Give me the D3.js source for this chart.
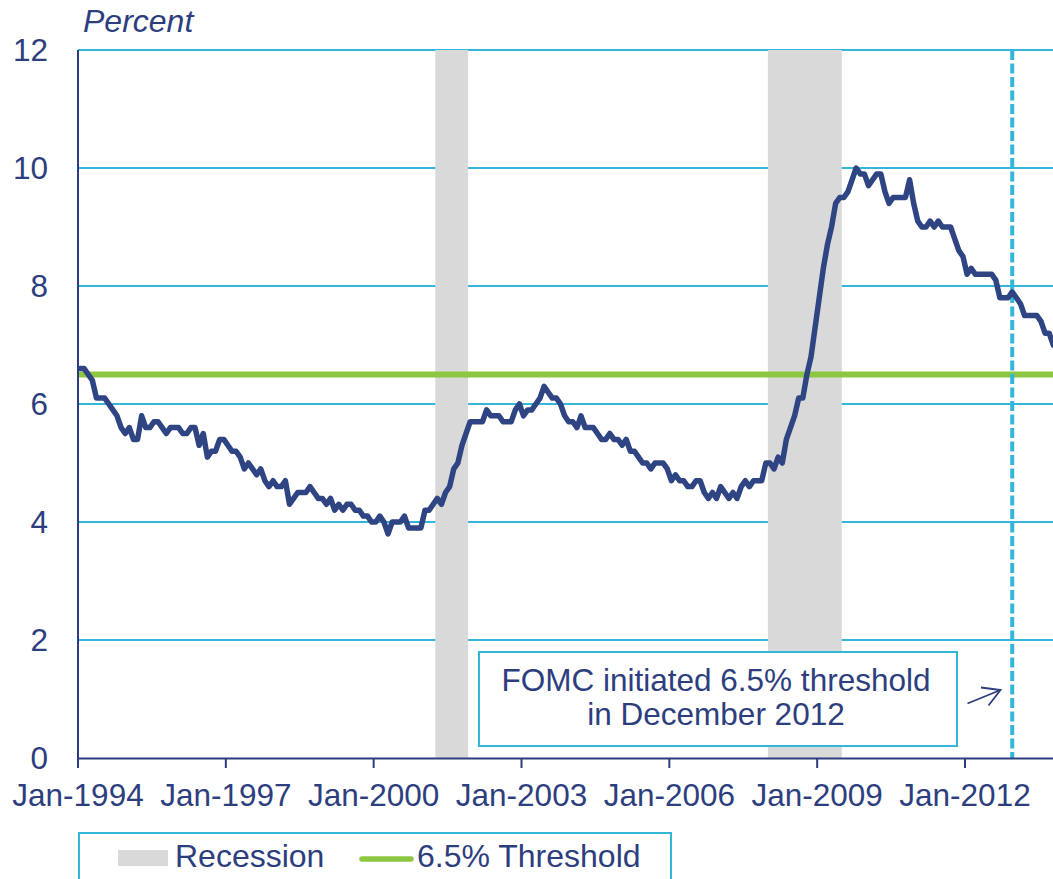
<!DOCTYPE html>
<html>
<head>
<meta charset="utf-8">
<script src="https://cdn.jsdelivr.net/npm/d3@7"></script>
<style>
  body { margin: 0; background: #fff; }
  svg text { font-family: 'Liberation Sans', Arial, sans-serif; fill: #2d3e7e; }
</style>
</head>
<body>
<div id="chart"></div>
<script>
// Monthly unemployment rate, Jan-1994 .. Oct-2013 (percent)
const rate = [
  6.6, 6.6, 6.5, 6.4, 6.1, 6.1, 6.1, 6.0, 5.9, 5.8, 5.6, 5.5, // 1994
  5.6, 5.4, 5.4, 5.8, 5.6, 5.6, 5.7, 5.7, 5.6, 5.5, 5.6, 5.6, // 1995
  5.6, 5.5, 5.5, 5.6, 5.6, 5.3, 5.5, 5.1, 5.2, 5.2, 5.4, 5.4, // 1996
  5.3, 5.2, 5.2, 5.1, 4.9, 5.0, 4.9, 4.8, 4.9, 4.7, 4.6, 4.7, // 1997
  4.6, 4.6, 4.7, 4.3, 4.4, 4.5, 4.5, 4.5, 4.6, 4.5, 4.4, 4.4, // 1998
  4.3, 4.4, 4.2, 4.3, 4.2, 4.3, 4.3, 4.2, 4.2, 4.1, 4.1, 4.0, // 1999
  4.0, 4.1, 4.0, 3.8, 4.0, 4.0, 4.0, 4.1, 3.9, 3.9, 3.9, 3.9, // 2000
  4.2, 4.2, 4.3, 4.4, 4.3, 4.5, 4.6, 4.9, 5.0, 5.3, 5.5, 5.7, // 2001
  5.7, 5.7, 5.7, 5.9, 5.8, 5.8, 5.8, 5.7, 5.7, 5.7, 5.9, 6.0, // 2002
  5.8, 5.9, 5.9, 6.0, 6.1, 6.3, 6.2, 6.1, 6.1, 6.0, 5.8, 5.7, // 2003
  5.7, 5.6, 5.8, 5.6, 5.6, 5.6, 5.5, 5.4, 5.4, 5.5, 5.4, 5.4, // 2004
  5.3, 5.4, 5.2, 5.2, 5.1, 5.0, 5.0, 4.9, 5.0, 5.0, 5.0, 4.9, // 2005
  4.7, 4.8, 4.7, 4.7, 4.6, 4.6, 4.7, 4.7, 4.5, 4.4, 4.5, 4.4, // 2006
  4.6, 4.5, 4.4, 4.5, 4.4, 4.6, 4.7, 4.6, 4.7, 4.7, 4.7, 5.0, // 2007
  5.0, 4.9, 5.1, 5.0, 5.4, 5.6, 5.8, 6.1, 6.1, 6.5, 6.8, 7.3, // 2008
  7.8, 8.3, 8.7, 9.0, 9.4, 9.5, 9.5, 9.6, 9.8, 10.0, 9.9, 9.9, // 2009
  9.7, 9.8, 9.9, 9.9, 9.6, 9.4, 9.5, 9.5, 9.5, 9.5, 9.8, 9.4, // 2010
  9.1, 9.0, 9.0, 9.1, 9.0, 9.1, 9.0, 9.0, 9.0, 8.8, 8.6, 8.5, // 2011
  8.2, 8.3, 8.2, 8.2, 8.2, 8.2, 8.2, 8.1, 7.8, 7.8, 7.8, 7.9, // 2012
  7.8, 7.7, 7.5, 7.5, 7.5, 7.5, 7.4, 7.2, 7.2, 7.0            // 2013
];

const tickLabels = ['Jan-1994', 'Jan-1997', 'Jan-2000', 'Jan-2003', 'Jan-2006', 'Jan-2009', 'Jan-2012'];
const yTicks = [0, 2, 4, 6, 8, 10, 12];
const threshold = 6.5;
const recessionStart = ['2001-04', '2008-01'];
const recessionEnd = ['2001-11', '2009-06'];
const fomcMonth = '2012-12';
const noteLines = ['FOMC initiated 6.5% threshold', 'in December 2012'];
const legendLabels = ['Recession', '6.5% Threshold'];

const W = 1053, H = 879;
const margin = { top: 50, left: 78, bottom: 121 };
const fontSize = 31.5;
const navy = '#2d3e7e';
const lineBlue = '#2f4583';
const cyan = '#34b6da';
const green = '#8dc641';
const grey = '#d9d9d9';

// one category per month, Jan-1994 .. Dec-2013 (Excel style category axis)
const monthKey = d3.timeFormat('%Y-%m');
const months = d3.timeMonth.range(new Date(1994, 0, 1), new Date(2014, 0, 1)).map(monthKey);
const monthW = (965 - margin.left) / 216;

const svg = d3.select('#chart').append('svg')
  .attr('width', W)
  .attr('height', H);

const x = d3.scaleBand()
  .domain(months)
  .range([margin.left, margin.left + months.length * monthW])
  .padding(0);

const y = d3.scaleLinear()
  .domain([0, 12])
  .range([H - margin.bottom, margin.top]);

// gridlines
svg.append('g')
  .selectAll('line')
  .data(yTicks.filter(t => t > 0))
  .join('line')
  .attr('x1', margin.left)
  .attr('x2', W)
  .attr('y1', d => y(d))
  .attr('y2', d => y(d))
  .attr('stroke', cyan)
  .attr('stroke-width', 2);

// recession shading
svg.append('g')
  .selectAll('rect')
  .data(recessionStart.map((s, i) => [s, recessionEnd[i]]))
  .join('rect')
  .attr('x', d => x(d[0]))
  .attr('width', d => x(d[1]) + x.bandwidth() - x(d[0]))
  .attr('y', y(12))
  .attr('height', y(0) - y(12))
  .attr('fill', grey);

// 6.5% threshold
svg.append('line')
  .attr('x1', margin.left)
  .attr('x2', W)
  .attr('y1', y(threshold))
  .attr('y2', y(threshold))
  .attr('stroke', green)
  .attr('stroke-width', 6);

// FOMC marker
const fx = x(fomcMonth) + x.bandwidth() / 2;
svg.append('line')
  .attr('x1', fx)
  .attr('x2', fx)
  .attr('y1', y(12))
  .attr('y2', y(0))
  .attr('stroke', cyan)
  .attr('stroke-width', 4)
  .attr('stroke-dasharray', '10,3.5');

// unemployment line
const line = d3.line()
  .x((d, i) => x(months[i]) + x.bandwidth() / 2)
  .y(d => y(d));

svg.append('path')
  .datum(rate)
  .attr('d', line)
  .attr('fill', 'none')
  .attr('stroke', lineBlue)
  .attr('stroke-width', 5.5)
  .attr('stroke-linejoin', 'round')
  .attr('stroke-linecap', 'round');

// x axis
const parseTick = d3.timeParse('%b-%Y');
const tickMonths = tickLabels.map(t => monthKey(parseTick(t)));

const xAxis = svg.append('g')
  .attr('transform', `translate(0,${y(0)})`)
  .call(d3.axisBottom(x)
    .tickValues(tickMonths)
    .tickFormat((d, i) => tickLabels[i])
    .tickSize(10)
    .tickSizeOuter(0));

xAxis.selectAll('.tick').attr('transform', d => `translate(${x(d)},0)`);
xAxis.select('.domain').attr('stroke', navy).attr('stroke-width', 2);
xAxis.selectAll('.tick line').attr('stroke', navy).attr('stroke-width', 2);
xAxis.selectAll('.tick text')
  .attr('y', 48)
  .attr('dy', 0)
  .attr('font-size', fontSize)
  .attr('fill', navy);

// y axis
svg.append('line')
  .attr('x1', margin.left)
  .attr('x2', margin.left)
  .attr('y1', y(12))
  .attr('y2', y(0))
  .attr('stroke', navy)
  .attr('stroke-width', 2);

svg.append('g')
  .selectAll('text')
  .data(yTicks)
  .join('text')
  .attr('x', 48)
  .attr('y', d => y(d))
  .attr('dy', '0.34em')
  .attr('text-anchor', 'end')
  .attr('font-size', fontSize)
  .text(d => d);

svg.append('text')
  .attr('x', 83)
  .attr('y', 32)
  .attr('font-size', 32)
  .attr('font-style', 'italic')
  .text('Percent');

// annotation
svg.append('rect')
  .attr('x', 479)
  .attr('y', 652)
  .attr('width', 478)
  .attr('height', 94)
  .attr('fill', '#fff')
  .attr('stroke', cyan)
  .attr('stroke-width', 2);

svg.append('g')
  .selectAll('text')
  .data(noteLines)
  .join('text')
  .attr('x', 716)
  .attr('y', (d, i) => 691 + i * 34)
  .attr('text-anchor', 'middle')
  .attr('font-size', fontSize)
  .text(d => d);

svg.append('path')
  .attr('d', 'M967.5,703.5 L1000.5,690 M981,687.5 L1000.5,690 L988.5,705.5')
  .attr('fill', 'none')
  .attr('stroke', navy)
  .attr('stroke-width', 1.8);

// legend
const legend = svg.append('g');
legend.append('rect')
  .attr('x', 79)
  .attr('y', 833)
  .attr('width', 592)
  .attr('height', 70)
  .attr('fill', 'none')
  .attr('stroke', cyan)
  .attr('stroke-width', 2);

legend.append('rect')
  .attr('x', 118)
  .attr('y', 850)
  .attr('width', 50)
  .attr('height', 16)
  .attr('fill', grey);

legend.append('text')
  .attr('x', 175)
  .attr('y', 867)
  .attr('font-size', 32)
  .text(legendLabels[0]);

legend.append('line')
  .attr('x1', 362)
  .attr('x2', 411)
  .attr('y1', 859)
  .attr('y2', 859)
  .attr('stroke', green)
  .attr('stroke-width', 5.5)
  .attr('stroke-linecap', 'round');

legend.append('text')
  .attr('x', 417)
  .attr('y', 867)
  .attr('font-size', 32)
  .text(legendLabels[1]);
</script>
</body>
</html>
